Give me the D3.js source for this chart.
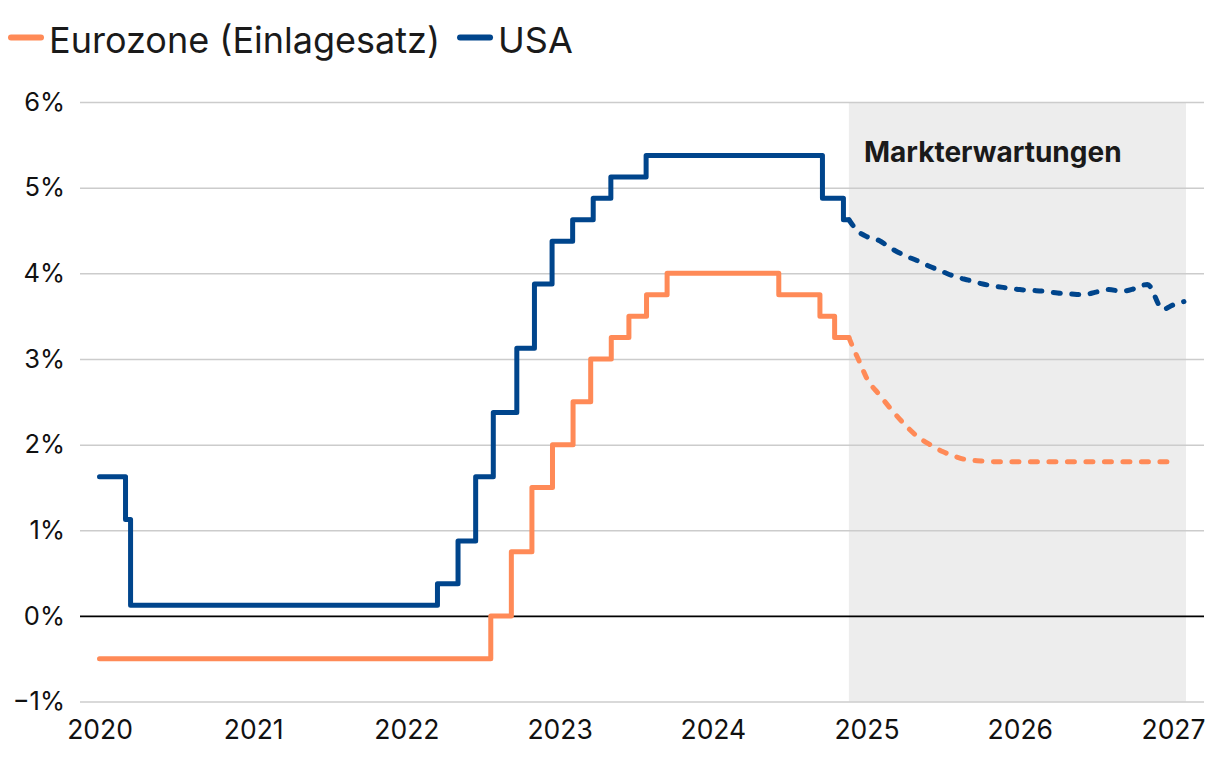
<!DOCTYPE html>
<html>
<head>
<meta charset="utf-8">
<script src="https://cdn.jsdelivr.net/npm/d3@7"></script>
<style>
  html, body { margin: 0; padding: 0; background: #ffffff; }
  svg { display: block; font-family: Inter, "Noto Sans", sans-serif; }
</style>
</head>
<body>
<svg id="chart" width="1220" height="762"></svg>
<script>
// ---------------- DATA ----------------
const seriesNames = ["Eurozone (Einlagesatz)", "USA"];
const yTicks = [-1, 0, 1, 2, 3, 4, 5, 6];
const xTickYears = [2020, 2021, 2022, 2023, 2024, 2025, 2026, 2027];
const forecastLabel = "Markterwartungen";
const forecastStart = "2024-11-20";
const forecastEnd = "2027-02-01";

// Eurozone deposit rate (actual, step changes at decision dates)
const euDates = ["2020-01-01", "2022-07-21", "2022-09-08", "2022-10-27", "2022-12-15", "2023-02-02",
                 "2023-03-16", "2023-05-04", "2023-06-15", "2023-07-27", "2023-09-14", "2024-06-06",
                 "2024-09-12", "2024-10-17", "2024-11-20"];
const euValues = [-0.5, 0.0, 0.75, 1.5, 2.0, 2.5, 3.0, 3.25, 3.5, 3.75, 4.0, 3.75, 3.5, 3.25, 3.25];

// USA fed funds (midpoint of target range, actual)
const usDates = ["2020-01-01", "2020-03-03", "2020-03-15", "2022-03-16", "2022-05-04", "2022-06-15",
                 "2022-07-27", "2022-09-21", "2022-11-02", "2022-12-14", "2023-02-01", "2023-03-22",
                 "2023-05-03", "2023-07-26", "2024-09-18", "2024-11-07", "2024-11-20"];
const usValues = [1.625, 1.125, 0.125, 0.375, 0.875, 1.625, 2.375, 3.125, 3.875, 4.375, 4.625, 4.875,
                  5.125, 5.375, 4.875, 4.625, 4.625];

// Market expectations (forecast)
const euForecastDates = ["2024-11-20", "2024-12-01", "2024-12-15", "2025-01-01", "2025-02-01", "2025-03-01",
                         "2025-04-01", "2025-05-01", "2025-06-01", "2025-07-01", "2025-08-01", "2025-09-01",
                         "2025-10-01", "2025-11-01", "2025-12-01", "2026-03-01", "2026-06-01", "2026-09-01",
                         "2026-12-01", "2027-01-08"];
const euForecastValues = [3.25, 3.12, 2.97, 2.78, 2.58, 2.41, 2.24, 2.10, 2.00, 1.92, 1.86, 1.82,
                          1.81, 1.80, 1.80, 1.80, 1.80, 1.80, 1.80, 1.80];

const usForecastDates = ["2024-11-20", "2024-12-01", "2024-12-20", "2025-01-01", "2025-02-01", "2025-03-01",
                         "2025-04-01", "2025-05-01", "2025-06-01", "2025-07-01", "2025-08-01", "2025-09-01",
                         "2025-10-01", "2025-11-01", "2025-12-01", "2026-01-01", "2026-02-01", "2026-03-01",
                         "2026-04-01", "2026-05-01", "2026-06-01", "2026-07-01", "2026-08-01", "2026-09-01",
                         "2026-10-01", "2026-11-01", "2026-12-08", "2027-01-01", "2027-01-27"];
const usForecastValues = [4.625, 4.55, 4.46, 4.43, 4.38, 4.29, 4.21, 4.15, 4.08, 4.02, 3.96, 3.92,
                          3.88, 3.85, 3.83, 3.81, 3.80, 3.79, 3.77, 3.76, 3.75, 3.78, 3.81, 3.79,
                          3.82, 3.87, 3.58, 3.63, 3.67];

// ---------------- STYLE ----------------
const colEU = "#FF8A57";
const colUS = "#00458C";
const parse = d3.timeParse("%Y-%m-%d");

const svg = d3.select("#chart");
const gridLeft = 80, gridRight = 1204;

const x = d3.scaleTime()
  .domain([new Date(2020, 0, 1), new Date(2027, 0, 1)])
  .range([99.5, 1173]);
const y = d3.scaleLinear().domain([-1, 6]).range([701.6, 102]);

// forecast shading
svg.append("rect")
  .attr("x", x(parse(forecastStart)))
  .attr("y", y(6))
  .attr("width", x(parse(forecastEnd)) - x(parse(forecastStart)))
  .attr("height", y(-1) - y(6))
  .attr("fill", "#EDEDED");

// y axis with gridlines
const yAxis = d3.axisLeft(y)
  .tickValues(yTicks)
  .tickSize(-(gridRight - gridLeft))
  .tickPadding(15)
  .tickFormat(d => (d < 0 ? "\u2212" + Math.abs(d) : d) + "%");
const gy = svg.append("g").attr("transform", `translate(${gridLeft},0)`).call(yAxis);
gy.select(".domain").remove();
gy.selectAll(".tick line").attr("stroke", "#CCCCCC").attr("stroke-width", 1.5);
gy.selectAll(".tick text").attr("font-size", 25.5).attr("fill", "#111").attr("font-family", "Inter");
gy.selectAll(".tick").filter(d => d === 0).select("line").attr("stroke", "#000").attr("stroke-width", 1.8);

// x axis labels
const xAxis = d3.axisBottom(x)
  .tickValues(xTickYears.map(yy => new Date(yy, 0, 1)))
  .tickSize(0)
  .tickPadding(19)
  .tickFormat(d3.timeFormat("%Y"));
const gx = svg.append("g").attr("transform", `translate(0,${y(-1)})`).call(xAxis);
gx.select(".domain").remove();
gx.selectAll(".tick text").attr("font-size", 26.5).attr("fill", "#111").attr("font-family", "Inter");

// lines
const stepLine = d3.line().x(d => x(d[0])).y(d => y(d[1])).curve(d3.curveStepAfter);
const smoothLine = d3.line().x(d => x(d[0])).y(d => y(d[1])).curve(d3.curveMonotoneX);

function zip(ds, vs) { return ds.map((d, i) => [parse(d), vs[i]]); }

svg.append("path").datum(zip(euForecastDates, euForecastValues))
  .attr("d", smoothLine).attr("fill", "none").attr("stroke", colEU)
  .attr("stroke-width", 5).attr("stroke-dasharray", "7,11.5").attr("stroke-linecap", "round");
svg.append("path").datum(zip(usForecastDates, usForecastValues))
  .attr("d", smoothLine).attr("fill", "none").attr("stroke", colUS)
  .attr("stroke-width", 5).attr("stroke-dasharray", "7,11.5").attr("stroke-linecap", "round");

svg.append("path").datum(zip(euDates, euValues))
  .attr("d", stepLine).attr("fill", "none").attr("stroke", colEU)
  .attr("stroke-width", 5).attr("stroke-linecap", "round").attr("stroke-linejoin", "round");
svg.append("path").datum(zip(usDates, usValues))
  .attr("d", stepLine).attr("fill", "none").attr("stroke", colUS)
  .attr("stroke-width", 5).attr("stroke-linecap", "round").attr("stroke-linejoin", "round");

// forecast label
svg.append("text")
  .attr("x", 864).attr("y", 162)
  .attr("font-size", 28).attr("font-weight", 700).attr("fill", "#1a1a1a")
  .attr("font-family", "Inter")
  .text(forecastLabel);

// legend
const legend = svg.append("g");
let lx = 11;
[[seriesNames[0], colEU], [seriesNames[1], colUS]].forEach(([name, col]) => {
  legend.append("line").attr("x1", lx).attr("x2", lx + 30).attr("y1", 37.5).attr("y2", 37.5)
    .attr("stroke", col).attr("stroke-width", 6).attr("stroke-linecap", "round");
  const t = legend.append("text").attr("x", lx + 38).attr("y", 52.5)
    .attr("font-size", 36).attr("fill", "#1a1a1a").attr("font-family", "Inter").text(name);
  lx = lx + 38 + t.node().getComputedTextLength() + 20;
});
</script>
</body>
</html>
